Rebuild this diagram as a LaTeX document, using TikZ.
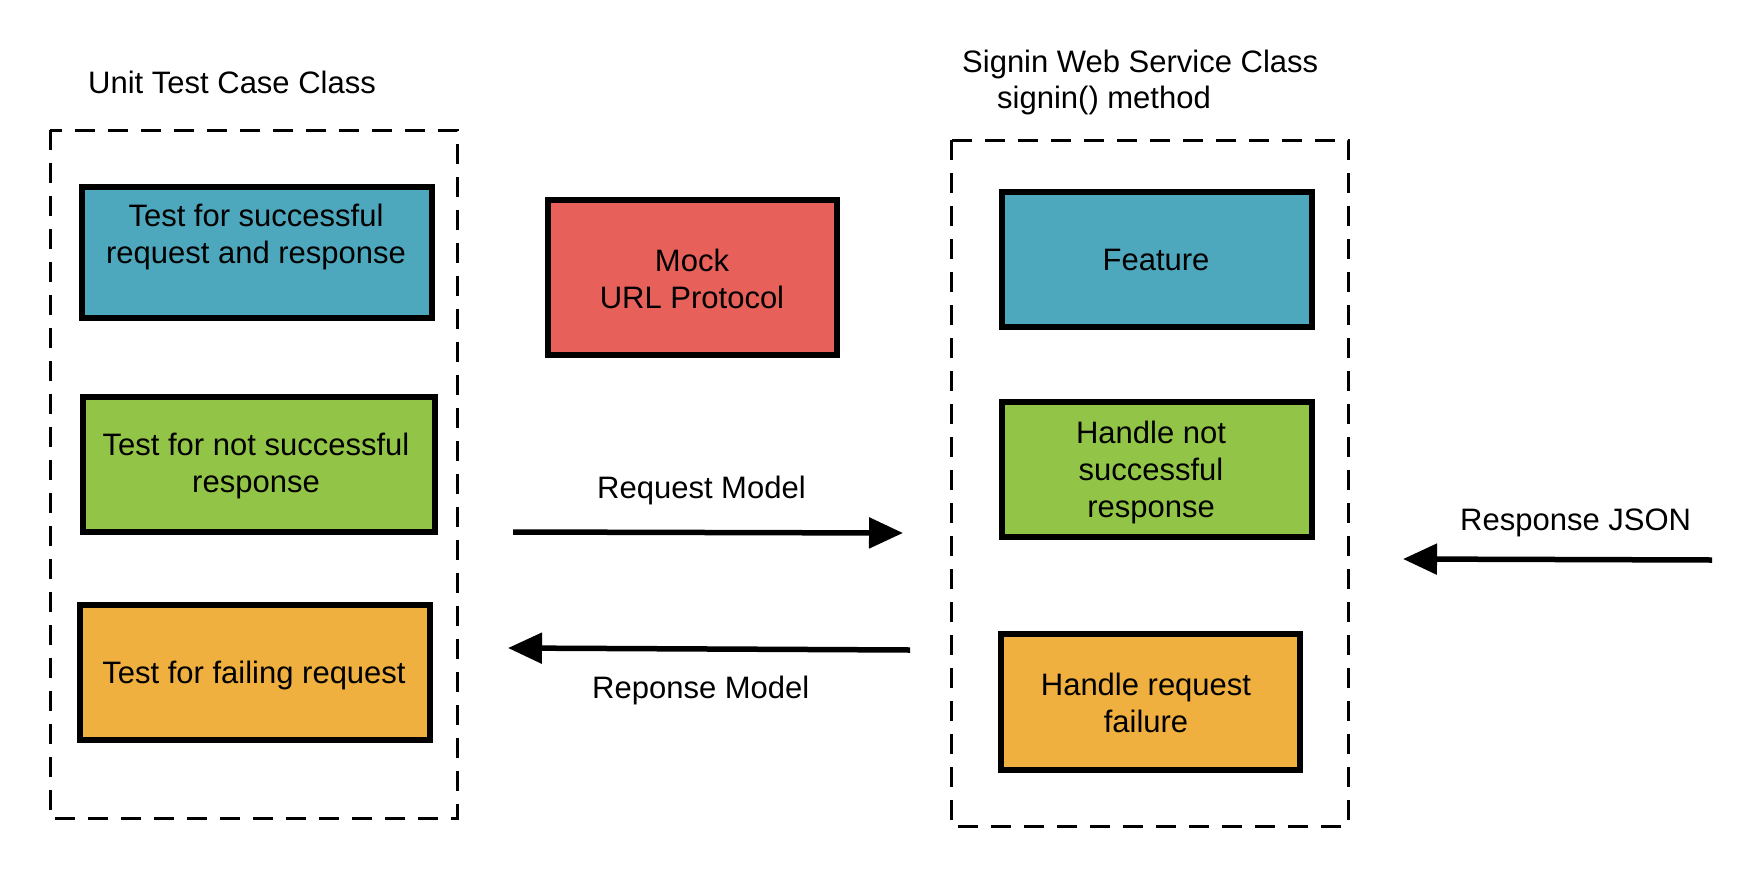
\documentclass[tikz,border=0pt]{standalone}
\usepackage{fontspec}
\setmainfont{Liberation Sans}
\usetikzlibrary{arrows.meta}
\definecolor{cblue}{RGB}{78,168,189}
\definecolor{cgreen}{RGB}{146,197,71}
\definecolor{cred}{RGB}{232,96,90}
\definecolor{corange}{RGB}{239,176,63}
\begin{document}
\begin{tikzpicture}[x=1pt,y=-1pt,
  every node/.style={font=\fontsize{31}{37}\selectfont},
  box/.style={draw=black, line width=5.5pt, inner sep=0pt},
  txt/.style={anchor=base, align=center, inner sep=0pt},
  lbl/.style={anchor=base west, inner sep=0pt},
  frame/.style={draw=black, line width=3pt, dash pattern=on 20pt off 13pt},
  arr/.style={draw=black, line width=5.5pt, -{Triangle[length=34pt,width=30pt]}}]
\useasboundingbox (0,0) rectangle (1744,870);
\fill[white] (0,0) rectangle (1744,870);

% dashed frames
\draw[frame] (50,130) rectangle (457,818);
\draw[frame] (951,140) rectangle (1348,826);

% titles
\node[lbl] (t1) at (88,93) {Unit Test Case Class};
\node[lbl] (t2) at (962,72) {Signin Web Service Class};
\node[lbl] (t3) at (997,108) {signin() method};

% left boxes
\node[box, fill=cblue, minimum width=350pt, minimum height=131pt] (b1) at (257,252.5) {};
\node[box, fill=cgreen, minimum width=352pt, minimum height=135pt] (b2) at (259,464.5) {};
\node[box, fill=corange, minimum width=350pt, minimum height=135pt] (b3) at (255,672.5) {};
\node[txt] (b1t) at (256,263) {Test for successful\\request and response};
\node[txt] (b2t) at (256,492) {Test for not successful\\response};
\node[txt] (b3t) at (254,683) {Test for failing request};

% mock
\node[box, fill=cred, minimum width=289pt, minimum height=155pt] (m) at (692.5,277.5) {};
\node[txt] (mt) at (692,308) {Mock\\URL Protocol};

% right boxes
\node[box, fill=cblue, minimum width=310pt, minimum height=135pt] (r1) at (1157,259.5) {};
\node[box, fill=cgreen, minimum width=310pt, minimum height=135pt] (r2) at (1157,469.5) {};
\node[box, fill=corange, minimum width=299pt, minimum height=136pt] (r3) at (1150.5,702) {};
\node[txt] (r1t) at (1156,270) {Feature};
\node[txt] (r2t) at (1151,517) {Handle not\\successful\\response};
\node[txt] (r3t) at (1146,732) {Handle request\\failure};

% arrows
\coordinate (a1s) at (513,532);
\coordinate (a1e) at (903,533);
\coordinate (a2s) at (910,650);
\coordinate (a2e) at (508,648);
\coordinate (a3s) at (1712,560);
\coordinate (a3e) at (1403,559);
\draw[arr] (a1s) -- (a1e);
\draw[arr] (a2s) -- (a2e);
\draw[arr] (a3s) -- (a3e);
\node[lbl] (l1) at (597,498) {Request Model};
\node[lbl] (l2) at (592,698) {Reponse Model};
\node[lbl] (l3) at (1460,530) {Response JSON};
\end{tikzpicture}
\end{document}
